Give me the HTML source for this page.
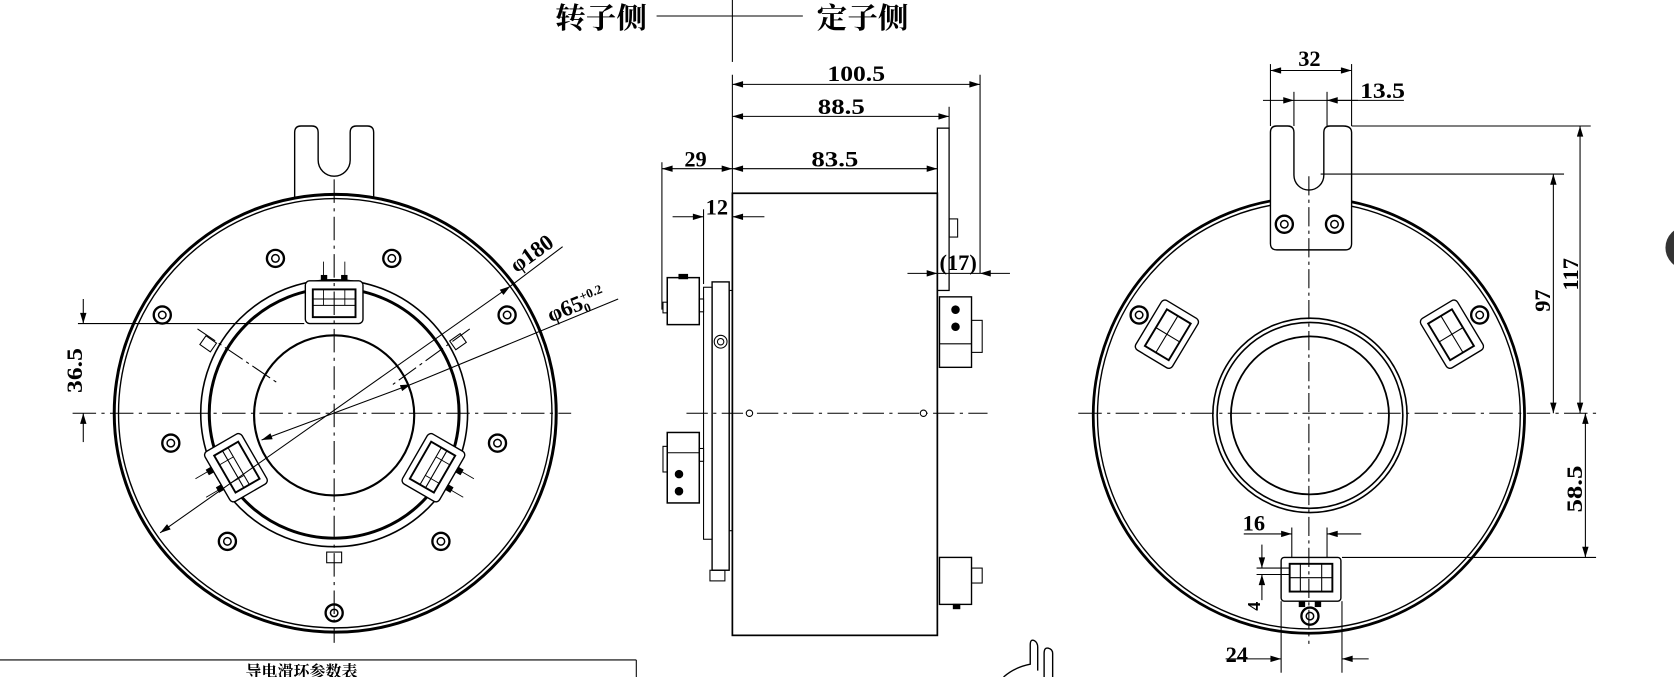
<!DOCTYPE html>
<html><head><meta charset="utf-8"><style>
html,body{margin:0;padding:0;background:#fff;}
svg{display:block;}
text{font-family:"Liberation Serif","Noto Serif CJK SC",serif;fill:#000;}
</style></head><body>
<svg width="1674" height="677" viewBox="0 0 1568 634" preserveAspectRatio="none" xmlns="http://www.w3.org/2000/svg">
<defs>
<marker id="a" viewBox="0 0 10 6" refX="10" refY="3" markerWidth="11" markerHeight="6" orient="auto-start-reverse" markerUnits="userSpaceOnUse"><path d="M0,0L10,3L0,6z" fill="#000"/></marker>
<g id="blk">
<rect x="-27" y="-20" width="54" height="40" rx="4" fill="#fff" stroke="#000" stroke-width="1.3"/>
<rect x="-20" y="-12" width="40" height="26" fill="none" stroke="#000" stroke-width="1.8"/>
<line x1="-20" y1="-3" x2="20" y2="-3" stroke="#000"/><line x1="-20" y1="3" x2="20" y2="3" stroke="#000"/>
<line x1="-10" y1="-12" x2="-10" y2="3" stroke="#000" stroke-width=".8"/><line x1="10" y1="-12" x2="10" y2="3" stroke="#000" stroke-width=".8"/>
<rect x="-12" y="-25" width="5" height="5" fill="#000"/><rect x="7" y="-25" width="5" height="5" fill="#000"/>
<line x1="-10" y1="-25" x2="-10" y2="-38" stroke="#000" stroke-width=".8"/><line x1="10" y1="-25" x2="10" y2="-38" stroke="#000" stroke-width=".8"/>
</g>
<g id="hole"><circle r="8" fill="#fff" stroke="#000" stroke-width="2.2"/><circle r="3.5" fill="none" stroke="#000" stroke-width="1.4"/></g>
</defs>
<g fill="none" stroke="#000" stroke-width="1">
<line x1="686" y1="0" x2="686" y2="58"/>
<line x1="615" y1="15" x2="752" y2="15"/>

<!-- LEFT VIEW -->
<path d="M276,185 V124 Q276,118 282,118 H292 Q298,118 298,124 V150 A15,15 0 0 0 328,150 V124 Q328,118 334,118 H344 Q350,118 350,124 V185" stroke-width="1.3"/>
<ellipse cx="314" cy="387" rx="207" ry="205" stroke-width="2.8"/>
<ellipse cx="314" cy="387" rx="203" ry="201" stroke-width="1.3"/>
<ellipse cx="313" cy="387" rx="125" ry="125" stroke-width="1.5"/>
<ellipse cx="313" cy="387" rx="117" ry="117" stroke-width="2.8"/>
<circle cx="313" cy="389" r="75" stroke-width="2"/>
<use href="#hole" x="258" y="242"/><use href="#hole" x="367" y="242"/>
<use href="#hole" x="152" y="295"/><use href="#hole" x="475" y="295"/>
<use href="#hole" x="160" y="415"/><use href="#hole" x="466" y="415"/>
<use href="#hole" x="213" y="507"/><use href="#hole" x="413" y="507"/>
<use href="#hole" x="313" y="574"/>
<use href="#blk" x="313" y="283"/>
<use href="#blk" transform="translate(221,438) rotate(-120)"/>
<use href="#blk" transform="translate(406,438) rotate(120)"/>
<rect x="306" y="517" width="14" height="10" fill="#fff"/>
<rect x="190" y="316" width="10" height="12" transform="rotate(-55 195 322)" fill="#fff"/>
<rect x="424" y="314" width="10" height="12" transform="rotate(55 429 320)" fill="#fff"/>
<line x1="185" y1="308" x2="262" y2="360" stroke-dasharray="20,4,3,4"/>
<line x1="440" y1="308" x2="368" y2="360" stroke-dasharray="20,4,3,4"/>
<line x1="68" y1="387" x2="535" y2="387" stroke-dasharray="22,5,3,5"/>
<line x1="313" y1="168" x2="313" y2="602" stroke-dasharray="22,5,3,5"/>
<line x1="73" y1="303" x2="285" y2="303"/>
<line x1="78" y1="280" x2="78" y2="303" marker-end="url(#a)"/>
<line x1="78" y1="414" x2="78" y2="387" marker-end="url(#a)"/>
<line x1="150" y1="499" x2="478" y2="268" marker-start="url(#a)" marker-end="url(#a)"/>
<line x1="478" y1="268" x2="527" y2="231"/>
<line x1="245" y1="412" x2="385" y2="360" marker-start="url(#a)" marker-end="url(#a)"/>
<line x1="385" y1="360" x2="579" y2="280"/>

<!-- SIDE VIEW -->
<rect x="686" y="181" width="192" height="414" stroke-width="1.6"/>
<rect x="878" y="120" width="11" height="152" stroke-width="1.2"/>
<rect x="889" y="205" width="8" height="17"/>
<rect x="880" y="278" width="30" height="66" stroke-width="1.3"/><rect x="910" y="300" width="10" height="30"/>
<circle cx="895" cy="290" r="3.5" fill="#000"/><circle cx="895" cy="306" r="3.5" fill="#000"/>
<line x1="880" y1="322" x2="910" y2="322"/>
<rect x="880" y="522" width="30" height="44" stroke-width="1.3"/><rect x="910" y="532" width="10" height="14"/>
<rect x="893" y="566" width="6" height="4" fill="#000"/>
<rect x="659" y="269" width="8" height="236"/>
<rect x="667" y="264" width="16" height="270" stroke-width="1.3"/>
<rect x="683" y="272" width="3" height="225"/>
<circle cx="675" cy="320" r="6"/><circle cx="675" cy="320" r="3"/>
<rect x="665" y="534" width="14" height="10"/>
<rect x="625" y="260" width="30" height="44" stroke-width="1.4"/><rect x="621" y="283" width="4" height="10"/><rect x="655" y="280" width="4" height="12"/>
<rect x="636" y="257" width="8" height="4" fill="#000"/>
<rect x="625" y="405" width="30" height="66" stroke-width="1.4"/><rect x="621" y="418" width="4" height="24"/><rect x="655" y="420" width="4" height="12"/>
<line x1="625" y1="424" x2="655" y2="424"/>
<circle cx="636" cy="444" r="3.5" fill="#000"/><circle cx="636" cy="460" r="3.5" fill="#000"/>
<line x1="643" y1="387" x2="925" y2="387" stroke-dasharray="20,5,3,5"/>
<circle cx="702" cy="387" r="3" fill="#fff"/><circle cx="865" cy="387" r="3" fill="#fff"/>
<line x1="918" y1="70" x2="918" y2="256"/><line x1="889" y1="100" x2="889" y2="120"/>
<line x1="686" y1="70" x2="686" y2="181"/>
<line x1="686" y1="79" x2="918" y2="79" marker-start="url(#a)" marker-end="url(#a)"/>
<line x1="686" y1="109" x2="889" y2="109" marker-start="url(#a)" marker-end="url(#a)"/>
<line x1="686" y1="158" x2="878" y2="158" marker-start="url(#a)" marker-end="url(#a)"/>
<line x1="620" y1="158" x2="686" y2="158" marker-start="url(#a)" marker-end="url(#a)"/>
<line x1="620" y1="152" x2="620" y2="290"/>
<line x1="659" y1="196" x2="659" y2="266"/>
<line x1="630" y1="203" x2="659" y2="203" marker-end="url(#a)"/>
<line x1="716" y1="203" x2="686" y2="203" marker-end="url(#a)"/>
<line x1="850" y1="256" x2="878" y2="256" marker-end="url(#a)"/>
<line x1="946" y1="256" x2="918" y2="256" marker-end="url(#a)"/>
<line x1="878" y1="256" x2="918" y2="256"/>

<!-- RIGHT VIEW -->
<ellipse cx="1226" cy="389" rx="202" ry="204" stroke-width="2.6"/>
<ellipse cx="1226" cy="389" rx="198" ry="200" stroke-width="1.3"/>
<circle cx="1227" cy="389" r="91" stroke-width="1.5"/>
<circle cx="1227" cy="389" r="87" stroke-width="1.5"/>
<circle cx="1227" cy="389" r="74" stroke-width="1.7"/>
<path d="M1190,228 V124 Q1190,118 1196,118 H1206 Q1212,118 1212,124 V164 A14,14 0 0 0 1240,164 V124 Q1240,118 1246,118 H1258 Q1266,118 1266,124 V228 Q1266,234 1260,234 H1196 Q1190,234 1190,228 Z" fill="#fff" stroke-width="1.3"/>
<use href="#hole" x="1203" y="210"/><use href="#hole" x="1250" y="210"/>
<g transform="translate(1093,313) rotate(-59)">
<rect x="-27" y="-20" width="54" height="40" rx="4" fill="#fff" stroke-width="1.3"/><rect x="-20" y="-12" width="40" height="26" stroke-width="1.8"/><line x1="-20" y1="0" x2="20" y2="0"/><line x1="0" y1="-12" x2="0" y2="14"/></g>
<g transform="translate(1360,313) rotate(59)">
<rect x="-27" y="-20" width="54" height="40" rx="4" fill="#fff" stroke-width="1.3"/><rect x="-20" y="-12" width="40" height="26" stroke-width="1.8"/><line x1="-20" y1="0" x2="20" y2="0"/><line x1="0" y1="-12" x2="0" y2="14"/></g>
<use href="#hole" x="1067" y="295"/><use href="#hole" x="1386" y="295"/>
<rect x="1200" y="522" width="56" height="41" rx="3" fill="#fff" stroke-width="1.3"/>
<rect x="1208" y="528" width="40" height="26" stroke-width="1.8"/>
<line x1="1208" y1="541" x2="1248" y2="541"/><line x1="1218" y1="528" x2="1218" y2="554"/><line x1="1238" y1="528" x2="1238" y2="554"/>
<rect x="1217" y="563" width="5" height="5" fill="#000"/><rect x="1232" y="563" width="5" height="5" fill="#000"/>
<use href="#hole" x="1227" y="577"/>
<line x1="1010" y1="387" x2="1495" y2="387" stroke-dasharray="22,5,3,5"/>
<line x1="1226" y1="165" x2="1226" y2="603" stroke-dasharray="18,4,3,4"/>
<line x1="1190" y1="60" x2="1190" y2="118"/><line x1="1266" y1="60" x2="1266" y2="118"/>
<line x1="1190" y1="66" x2="1266" y2="66" marker-start="url(#a)" marker-end="url(#a)"/>
<line x1="1212" y1="86" x2="1212" y2="118"/><line x1="1243" y1="86" x2="1243" y2="118"/>
<line x1="1183" y1="94" x2="1212" y2="94" marker-end="url(#a)"/>
<line x1="1272" y1="94" x2="1243" y2="94" marker-end="url(#a)"/>
<line x1="1212" y1="94" x2="1315" y2="94"/>
<line x1="1266" y1="118" x2="1490" y2="118"/>
<line x1="1480" y1="118" x2="1480" y2="387" marker-start="url(#a)" marker-end="url(#a)"/>
<line x1="1237" y1="163" x2="1465" y2="163"/>
<line x1="1455" y1="163" x2="1455" y2="387" marker-start="url(#a)" marker-end="url(#a)"/>
<line x1="1257" y1="522" x2="1495" y2="522"/>
<line x1="1485" y1="387" x2="1485" y2="522" marker-start="url(#a)" marker-end="url(#a)"/>
<line x1="1210" y1="494" x2="1210" y2="522"/><line x1="1243" y1="494" x2="1243" y2="522"/>
<line x1="1165" y1="500" x2="1210" y2="500" marker-end="url(#a)"/>
<line x1="1275" y1="500" x2="1243" y2="500" marker-end="url(#a)"/>
<line x1="1177" y1="532" x2="1208" y2="532"/><line x1="1177" y1="538" x2="1208" y2="538"/>
<line x1="1182" y1="510" x2="1182" y2="532" marker-end="url(#a)"/>
<line x1="1182" y1="562" x2="1182" y2="538" marker-end="url(#a)"/>
<line x1="1200" y1="563" x2="1200" y2="630"/><line x1="1257" y1="563" x2="1257" y2="630"/>
<line x1="1148" y1="617" x2="1200" y2="617" marker-end="url(#a)"/>
<line x1="1282" y1="617" x2="1257" y2="617" marker-end="url(#a)"/>

<line x1="0" y1="618" x2="596" y2="618"/><line x1="596" y1="618" x2="596" y2="634"/>
<path d="M940,634 Q950,625 965,622 V604 Q965,598 969,600 Q972,602 972,606 V628" stroke-width="1.3"/>
<path d="M978,634 V612 Q978,606 982,607 Q986,608 986,612 V634" stroke-width="1.3"/>
</g>
<circle cx="1580" cy="232" r="20" fill="#333"/>
<g font-weight="bold">
<text x="520" y="26" font-size="27" textLength="86" lengthAdjust="spacingAndGlyphs">转子侧</text>
<text x="765" y="26" font-size="27" textLength="86" lengthAdjust="spacingAndGlyphs">定子侧</text>
<text x="230" y="634" font-size="15">导电滑环参数表</text>
</g>
<g font-size="21" font-weight="bold">
<text x="775" y="76" textLength="54" lengthAdjust="spacingAndGlyphs">100.5</text>
<text x="766" y="107" textLength="44" lengthAdjust="spacingAndGlyphs">88.5</text>
<text x="760" y="156" textLength="44" lengthAdjust="spacingAndGlyphs">83.5</text>
<text x="641" y="156">29</text>
<text x="661" y="201">12</text>
<text x="880" y="253">(17)</text>
<text x="1216" y="62">32</text>
<text x="1274" y="92" textLength="42" lengthAdjust="spacingAndGlyphs">13.5</text>
<text x="1164" y="497">16</text>
<text x="1148" y="620">24</text>
<text transform="translate(77,368) rotate(-90)" textLength="42" lengthAdjust="spacingAndGlyphs">36.5</text>
<text transform="translate(1478,272) rotate(-90)">117</text>
<text transform="translate(1452,292) rotate(-90)">97</text>
<text transform="translate(1482,480) rotate(-90)" textLength="44" lengthAdjust="spacingAndGlyphs">58.5</text>
<text transform="translate(1180,572) rotate(-90)" font-size="17">4</text>
<text transform="translate(484,256) rotate(-36)">φ180</text>
<text transform="translate(516,302) rotate(-22)">φ65<tspan font-size="12" dy="-8">+0.2</tspan><tspan font-size="12" dx="-22" dy="12">0</tspan></text>
</g>
</svg>
</body></html>
